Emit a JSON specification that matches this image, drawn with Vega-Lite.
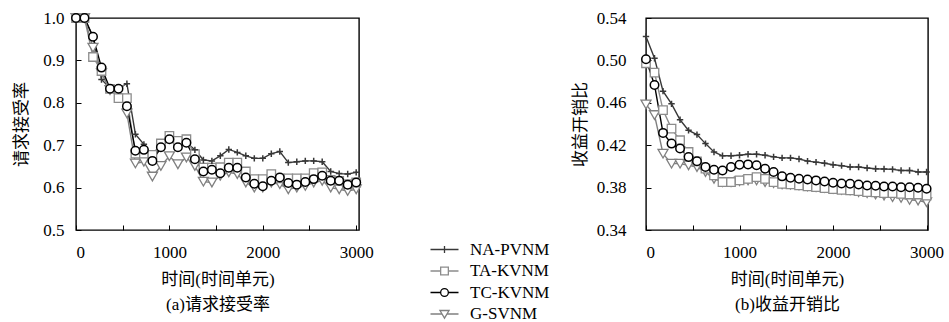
{
"$schema":"https://vega.github.io/schema/vega-lite/v6.json",
"background":"white",
"autosize":{"type":"pad"},
"padding":{"left":12,"top":8,"right":5,"bottom":5},
"spacing":287,
"bounds":"flush",
"datasets":{
"a":[
{"t":0,"s":"NA-PVNM","v":1.0},{"t":91,"s":"NA-PVNM","v":1.0},{"t":182,"s":"NA-PVNM","v":0.956},{"t":273,"s":"NA-PVNM","v":0.855},{"t":364,"s":"NA-PVNM","v":0.835},{"t":455,"s":"NA-PVNM","v":0.835},{"t":545,"s":"NA-PVNM","v":0.845},{"t":636,"s":"NA-PVNM","v":0.726},{"t":727,"s":"NA-PVNM","v":0.702},{"t":818,"s":"NA-PVNM","v":0.665},{"t":909,"s":"NA-PVNM","v":0.695},{"t":1000,"s":"NA-PVNM","v":0.714},{"t":1091,"s":"NA-PVNM","v":0.697},{"t":1182,"s":"NA-PVNM","v":0.706},{"t":1273,"s":"NA-PVNM","v":0.689},{"t":1364,"s":"NA-PVNM","v":0.665},{"t":1455,"s":"NA-PVNM","v":0.663},{"t":1545,"s":"NA-PVNM","v":0.675},{"t":1636,"s":"NA-PVNM","v":0.690},{"t":1727,"s":"NA-PVNM","v":0.683},{"t":1818,"s":"NA-PVNM","v":0.675},{"t":1909,"s":"NA-PVNM","v":0.669},{"t":2000,"s":"NA-PVNM","v":0.669},{"t":2091,"s":"NA-PVNM","v":0.680},{"t":2182,"s":"NA-PVNM","v":0.685},{"t":2273,"s":"NA-PVNM","v":0.659},{"t":2364,"s":"NA-PVNM","v":0.661},{"t":2455,"s":"NA-PVNM","v":0.663},{"t":2545,"s":"NA-PVNM","v":0.663},{"t":2636,"s":"NA-PVNM","v":0.661},{"t":2727,"s":"NA-PVNM","v":0.638},{"t":2818,"s":"NA-PVNM","v":0.633},{"t":2909,"s":"NA-PVNM","v":0.632},{"t":3000,"s":"NA-PVNM","v":0.636},
{"t":0,"s":"TA-KVNM","v":1.0},{"t":91,"s":"TA-KVNM","v":1.0},{"t":182,"s":"TA-KVNM","v":0.908},{"t":273,"s":"TA-KVNM","v":0.875},{"t":364,"s":"TA-KVNM","v":0.833},{"t":455,"s":"TA-KVNM","v":0.811},{"t":545,"s":"TA-KVNM","v":0.811},{"t":636,"s":"TA-KVNM","v":0.680},{"t":727,"s":"TA-KVNM","v":0.680},{"t":818,"s":"TA-KVNM","v":0.677},{"t":909,"s":"TA-KVNM","v":0.704},{"t":1000,"s":"TA-KVNM","v":0.722},{"t":1091,"s":"TA-KVNM","v":0.710},{"t":1182,"s":"TA-KVNM","v":0.714},{"t":1273,"s":"TA-KVNM","v":0.679},{"t":1364,"s":"TA-KVNM","v":0.647},{"t":1455,"s":"TA-KVNM","v":0.647},{"t":1545,"s":"TA-KVNM","v":0.648},{"t":1636,"s":"TA-KVNM","v":0.659},{"t":1727,"s":"TA-KVNM","v":0.659},{"t":1818,"s":"TA-KVNM","v":0.638},{"t":1909,"s":"TA-KVNM","v":0.620},{"t":2000,"s":"TA-KVNM","v":0.620},{"t":2091,"s":"TA-KVNM","v":0.632},{"t":2182,"s":"TA-KVNM","v":0.622},{"t":2273,"s":"TA-KVNM","v":0.622},{"t":2364,"s":"TA-KVNM","v":0.622},{"t":2455,"s":"TA-KVNM","v":0.622},{"t":2545,"s":"TA-KVNM","v":0.634},{"t":2636,"s":"TA-KVNM","v":0.636},{"t":2727,"s":"TA-KVNM","v":0.618},{"t":2818,"s":"TA-KVNM","v":0.616},{"t":2909,"s":"TA-KVNM","v":0.608},{"t":3000,"s":"TA-KVNM","v":0.612},
{"t":0,"s":"TC-KVNM","v":1.0},{"t":91,"s":"TC-KVNM","v":1.0},{"t":182,"s":"TC-KVNM","v":0.956},{"t":273,"s":"TC-KVNM","v":0.883},{"t":364,"s":"TC-KVNM","v":0.833},{"t":455,"s":"TC-KVNM","v":0.833},{"t":545,"s":"TC-KVNM","v":0.792},{"t":636,"s":"TC-KVNM","v":0.687},{"t":727,"s":"TC-KVNM","v":0.689},{"t":818,"s":"TC-KVNM","v":0.663},{"t":909,"s":"TC-KVNM","v":0.695},{"t":1000,"s":"TC-KVNM","v":0.714},{"t":1091,"s":"TC-KVNM","v":0.695},{"t":1182,"s":"TC-KVNM","v":0.706},{"t":1273,"s":"TC-KVNM","v":0.667},{"t":1364,"s":"TC-KVNM","v":0.638},{"t":1455,"s":"TC-KVNM","v":0.642},{"t":1545,"s":"TC-KVNM","v":0.634},{"t":1636,"s":"TC-KVNM","v":0.647},{"t":1727,"s":"TC-KVNM","v":0.647},{"t":1818,"s":"TC-KVNM","v":0.624},{"t":1909,"s":"TC-KVNM","v":0.609},{"t":2000,"s":"TC-KVNM","v":0.603},{"t":2091,"s":"TC-KVNM","v":0.616},{"t":2182,"s":"TC-KVNM","v":0.624},{"t":2273,"s":"TC-KVNM","v":0.611},{"t":2364,"s":"TC-KVNM","v":0.607},{"t":2455,"s":"TC-KVNM","v":0.613},{"t":2545,"s":"TC-KVNM","v":0.620},{"t":2636,"s":"TC-KVNM","v":0.628},{"t":2727,"s":"TC-KVNM","v":0.616},{"t":2818,"s":"TC-KVNM","v":0.616},{"t":2909,"s":"TC-KVNM","v":0.607},{"t":3000,"s":"TC-KVNM","v":0.612},
{"t":0,"s":"G-SVNM","v":1.0},{"t":91,"s":"G-SVNM","v":1.0},{"t":182,"s":"G-SVNM","v":0.93},{"t":273,"s":"G-SVNM","v":0.87},{"t":364,"s":"G-SVNM","v":0.83},{"t":455,"s":"G-SVNM","v":0.83},{"t":545,"s":"G-SVNM","v":0.775},{"t":636,"s":"G-SVNM","v":0.657},{"t":727,"s":"G-SVNM","v":0.661},{"t":818,"s":"G-SVNM","v":0.626},{"t":909,"s":"G-SVNM","v":0.651},{"t":1000,"s":"G-SVNM","v":0.674},{"t":1091,"s":"G-SVNM","v":0.655},{"t":1182,"s":"G-SVNM","v":0.671},{"t":1273,"s":"G-SVNM","v":0.651},{"t":1364,"s":"G-SVNM","v":0.614},{"t":1455,"s":"G-SVNM","v":0.612},{"t":1545,"s":"G-SVNM","v":0.628},{"t":1636,"s":"G-SVNM","v":0.636},{"t":1727,"s":"G-SVNM","v":0.632},{"t":1818,"s":"G-SVNM","v":0.612},{"t":1909,"s":"G-SVNM","v":0.600},{"t":2000,"s":"G-SVNM","v":0.600},{"t":2091,"s":"G-SVNM","v":0.612},{"t":2182,"s":"G-SVNM","v":0.608},{"t":2273,"s":"G-SVNM","v":0.596},{"t":2364,"s":"G-SVNM","v":0.600},{"t":2455,"s":"G-SVNM","v":0.604},{"t":2545,"s":"G-SVNM","v":0.612},{"t":2636,"s":"G-SVNM","v":0.616},{"t":2727,"s":"G-SVNM","v":0.600},{"t":2818,"s":"G-SVNM","v":0.596},{"t":2909,"s":"G-SVNM","v":0.592},{"t":3000,"s":"G-SVNM","v":0.596}
],
"b":[
{"t":0,"s":"NA-PVNM","v":0.5226},{"t":91,"s":"NA-PVNM","v":0.502},{"t":182,"s":"NA-PVNM","v":0.471},{"t":273,"s":"NA-PVNM","v":0.459},{"t":364,"s":"NA-PVNM","v":0.444},{"t":455,"s":"NA-PVNM","v":0.434},{"t":545,"s":"NA-PVNM","v":0.430},{"t":636,"s":"NA-PVNM","v":0.4215},{"t":727,"s":"NA-PVNM","v":0.4136},{"t":818,"s":"NA-PVNM","v":0.410},{"t":909,"s":"NA-PVNM","v":0.410},{"t":1000,"s":"NA-PVNM","v":0.4105},{"t":1091,"s":"NA-PVNM","v":0.4114},{"t":1182,"s":"NA-PVNM","v":0.4114},{"t":1273,"s":"NA-PVNM","v":0.4105},{"t":1364,"s":"NA-PVNM","v":0.409},{"t":1455,"s":"NA-PVNM","v":0.408},{"t":1545,"s":"NA-PVNM","v":0.408},{"t":1636,"s":"NA-PVNM","v":0.407},{"t":1727,"s":"NA-PVNM","v":0.405},{"t":1818,"s":"NA-PVNM","v":0.404},{"t":1909,"s":"NA-PVNM","v":0.403},{"t":2000,"s":"NA-PVNM","v":0.4016},{"t":2091,"s":"NA-PVNM","v":0.4007},{"t":2182,"s":"NA-PVNM","v":0.3994},{"t":2273,"s":"NA-PVNM","v":0.3994},{"t":2364,"s":"NA-PVNM","v":0.3985},{"t":2455,"s":"NA-PVNM","v":0.3978},{"t":2545,"s":"NA-PVNM","v":0.3975},{"t":2636,"s":"NA-PVNM","v":0.3972},{"t":2727,"s":"NA-PVNM","v":0.3962},{"t":2818,"s":"NA-PVNM","v":0.3962},{"t":2909,"s":"NA-PVNM","v":0.3947},{"t":3000,"s":"NA-PVNM","v":0.3947},
{"t":0,"s":"TA-KVNM","v":0.4973},{"t":91,"s":"TA-KVNM","v":0.4885},{"t":182,"s":"TA-KVNM","v":0.4531},{"t":273,"s":"TA-KVNM","v":0.4357},{"t":364,"s":"TA-KVNM","v":0.4247},{"t":455,"s":"TA-KVNM","v":0.4136},{"t":545,"s":"TA-KVNM","v":0.4048},{"t":636,"s":"TA-KVNM","v":0.3978},{"t":727,"s":"TA-KVNM","v":0.3915},{"t":818,"s":"TA-KVNM","v":0.3852},{"t":909,"s":"TA-KVNM","v":0.3852},{"t":1000,"s":"TA-KVNM","v":0.3868},{"t":1091,"s":"TA-KVNM","v":0.3883},{"t":1182,"s":"TA-KVNM","v":0.3899},{"t":1273,"s":"TA-KVNM","v":0.3883},{"t":1364,"s":"TA-KVNM","v":0.3852},{"t":1455,"s":"TA-KVNM","v":0.3836},{"t":1545,"s":"TA-KVNM","v":0.383},{"t":1636,"s":"TA-KVNM","v":0.382},{"t":1727,"s":"TA-KVNM","v":0.3811},{"t":1818,"s":"TA-KVNM","v":0.3804},{"t":1909,"s":"TA-KVNM","v":0.3795},{"t":2000,"s":"TA-KVNM","v":0.3785},{"t":2091,"s":"TA-KVNM","v":0.3779},{"t":2182,"s":"TA-KVNM","v":0.3773},{"t":2273,"s":"TA-KVNM","v":0.3767},{"t":2364,"s":"TA-KVNM","v":0.3757},{"t":2455,"s":"TA-KVNM","v":0.3754},{"t":2545,"s":"TA-KVNM","v":0.3748},{"t":2636,"s":"TA-KVNM","v":0.3748},{"t":2727,"s":"TA-KVNM","v":0.3741},{"t":2818,"s":"TA-KVNM","v":0.3735},{"t":2909,"s":"TA-KVNM","v":0.3735},{"t":3000,"s":"TA-KVNM","v":0.3725},
{"t":0,"s":"TC-KVNM","v":0.501},{"t":91,"s":"TC-KVNM","v":0.4768},{"t":182,"s":"TC-KVNM","v":0.4316},{"t":273,"s":"TC-KVNM","v":0.4215},{"t":364,"s":"TC-KVNM","v":0.4168},{"t":455,"s":"TC-KVNM","v":0.4089},{"t":545,"s":"TC-KVNM","v":0.4048},{"t":636,"s":"TC-KVNM","v":0.3994},{"t":727,"s":"TC-KVNM","v":0.3969},{"t":818,"s":"TC-KVNM","v":0.3962},{"t":909,"s":"TC-KVNM","v":0.3994},{"t":1000,"s":"TC-KVNM","v":0.4016},{"t":1091,"s":"TC-KVNM","v":0.4019},{"t":1182,"s":"TC-KVNM","v":0.401},{"t":1273,"s":"TC-KVNM","v":0.3978},{"t":1364,"s":"TC-KVNM","v":0.3947},{"t":1455,"s":"TC-KVNM","v":0.3906},{"t":1545,"s":"TC-KVNM","v":0.3893},{"t":1636,"s":"TC-KVNM","v":0.3883},{"t":1727,"s":"TC-KVNM","v":0.3877},{"t":1818,"s":"TC-KVNM","v":0.3868},{"t":1909,"s":"TC-KVNM","v":0.3858},{"t":2000,"s":"TC-KVNM","v":0.3846},{"t":2091,"s":"TC-KVNM","v":0.3839},{"t":2182,"s":"TC-KVNM","v":0.3836},{"t":2273,"s":"TC-KVNM","v":0.383},{"t":2364,"s":"TC-KVNM","v":0.382},{"t":2455,"s":"TC-KVNM","v":0.3817},{"t":2545,"s":"TC-KVNM","v":0.3811},{"t":2636,"s":"TC-KVNM","v":0.3811},{"t":2727,"s":"TC-KVNM","v":0.3804},{"t":2818,"s":"TC-KVNM","v":0.3804},{"t":2909,"s":"TC-KVNM","v":0.3798},{"t":3000,"s":"TC-KVNM","v":0.3789},
{"t":0,"s":"G-SVNM","v":0.4585},{"t":91,"s":"G-SVNM","v":0.4484},{"t":182,"s":"G-SVNM","v":0.412},{"t":273,"s":"G-SVNM","v":0.4026},{"t":364,"s":"G-SVNM","v":0.4026},{"t":455,"s":"G-SVNM","v":0.401},{"t":545,"s":"G-SVNM","v":0.3994},{"t":636,"s":"G-SVNM","v":0.3947},{"t":727,"s":"G-SVNM","v":0.3883},{"t":818,"s":"G-SVNM","v":0.3852},{"t":909,"s":"G-SVNM","v":0.3852},{"t":1000,"s":"G-SVNM","v":0.3861},{"t":1091,"s":"G-SVNM","v":0.3868},{"t":1182,"s":"G-SVNM","v":0.3868},{"t":1273,"s":"G-SVNM","v":0.3852},{"t":1364,"s":"G-SVNM","v":0.3842},{"t":1455,"s":"G-SVNM","v":0.383},{"t":1545,"s":"G-SVNM","v":0.3827},{"t":1636,"s":"G-SVNM","v":0.382},{"t":1727,"s":"G-SVNM","v":0.3811},{"t":1818,"s":"G-SVNM","v":0.3804},{"t":1909,"s":"G-SVNM","v":0.3798},{"t":2000,"s":"G-SVNM","v":0.3789},{"t":2091,"s":"G-SVNM","v":0.3779},{"t":2182,"s":"G-SVNM","v":0.3773},{"t":2273,"s":"G-SVNM","v":0.3757},{"t":2364,"s":"G-SVNM","v":0.3748},{"t":2455,"s":"G-SVNM","v":0.3735},{"t":2545,"s":"G-SVNM","v":0.3725},{"t":2636,"s":"G-SVNM","v":0.371},{"t":2727,"s":"G-SVNM","v":0.3703},{"t":2818,"s":"G-SVNM","v":0.3684},{"t":2909,"s":"G-SVNM","v":0.3678},{"t":3000,"s":"G-SVNM","v":0.3662}
]
},
"hconcat":[
{
"width":283,"height":212,
"data":{"name":"a"},
"encoding":{
"x":{"field":"t","type":"quantitative","scale":{"domain":[0,3030],"nice":false,"zero":false},
 "axis":{"values":[0,500,1000,1500,2000,2500,3000],"format":"d","labelExpr":"datum.value % 1000 === 0 ? datum.label : ''","labelPadding":19,"title":["时间(时间单元)","(a)请求接受率"],"titlePadding":11,"titleLineHeight":25}},
"y":{"field":"v","type":"quantitative","scale":{"domain":[0.5,1.0],"nice":false,"zero":false},
 "axis":{"values":[0.5,0.6,0.7,0.8,0.9,1.0],"format":".1f","labelPadding":17,"title":"请求接受率","titlePadding":12}},
"color":{"field":"s","type":"nominal","scale":{"domain":["NA-PVNM","TA-KVNM","TC-KVNM","G-SVNM"],"range":["#383838","#8c8c8c","#000000","#808080"]},
 "legend":{"orient":"none","legendX":360,"legendY":223,"title":null}}
},
"layer":[
{"mark":{"type":"line","strokeWidth":1.4}},
{"transform":[{"filter":"datum.s === 'G-SVNM'"}],"mark":{"type":"point","shape":"triangle-down","size":100,"filled":false,"fill":"white","strokeWidth":1.3,"opacity":1}},
{"transform":[{"filter":"datum.s === 'TA-KVNM'"}],"mark":{"type":"point","shape":"square","size":72,"filled":false,"fill":"white","strokeWidth":1.3,"opacity":1}},
{"transform":[{"filter":"datum.s === 'NA-PVNM'"}],"mark":{"type":"point","shape":"M-0.8,0L0.8,0M0,-0.8L0,0.8","size":64,"filled":false,"strokeWidth":1.5,"opacity":1}},
{"transform":[{"filter":"datum.s === 'TC-KVNM'"}],"mark":{"type":"point","shape":"circle","size":72,"filled":false,"fill":"white","strokeWidth":1.5,"opacity":1}},
{"transform":[{"filter":"datum.t < 0"}],"mark":{"type":"point","filled":false,"fill":"white","strokeWidth":1.3,"opacity":1},
 "encoding":{"shape":{"field":"s","type":"nominal","scale":{"domain":["NA-PVNM","TA-KVNM","TC-KVNM","G-SVNM"],"range":["M-4,0L4,0M0,-1L0,1","M-4,0L-1.1,0M1.1,0L4,0M-1.1,-1.1L1.1,-1.1L1.1,1.1L-1.1,1.1Z","M-4,0L-1.1,0M1.1,0L4,0M-1.1,0A1.1,1.1,0,1,1,1.1,0A1.1,1.1,0,1,1,-1.1,0Z","M-4,0L-0.7,0M0.7,0L4,0M-1.3,-1L1.3,-1L0,1.2Z"]},
 "legend":{"orient":"none","legendX":360,"legendY":223,"title":null}}}}
]
},
{
"width":282,"height":212,
"data":{"name":"b"},
"encoding":{
"x":{"field":"t","type":"quantitative","scale":{"domain":[0,3015],"nice":false,"zero":false},
 "axis":{"values":[0,500,1000,1500,2000,2500,3000],"format":"d","labelExpr":"datum.value % 1000 === 0 ? datum.label : ''","labelPadding":19,"title":["时间(时间单元)","(b)收益开销比"],"titlePadding":11,"titleLineHeight":25}},
"y":{"field":"v","type":"quantitative","scale":{"domain":[0.34,0.54],"nice":false,"zero":false},
 "axis":{"values":[0.34,0.38,0.42,0.46,0.50,0.54],"format":".2f","labelPadding":25,"title":"收益开销比","titlePadding":7}},
"color":{"field":"s","type":"nominal","scale":{"domain":["NA-PVNM","TA-KVNM","TC-KVNM","G-SVNM"],"range":["#383838","#8c8c8c","#000000","#808080"]}}
},
"layer":[
{"mark":{"type":"line","strokeWidth":1.4}},
{"transform":[{"filter":"datum.s === 'G-SVNM'"}],"mark":{"type":"point","shape":"triangle-down","size":100,"filled":false,"fill":"white","strokeWidth":1.3,"opacity":1}},
{"transform":[{"filter":"datum.s === 'TA-KVNM'"}],"mark":{"type":"point","shape":"square","size":72,"filled":false,"fill":"white","strokeWidth":1.3,"opacity":1}},
{"transform":[{"filter":"datum.s === 'NA-PVNM'"}],"mark":{"type":"point","shape":"M-0.8,0L0.8,0M0,-0.8L0,0.8","size":64,"filled":false,"strokeWidth":1.5,"opacity":1}},
{"transform":[{"filter":"datum.s === 'TC-KVNM'"}],"mark":{"type":"point","shape":"circle","size":72,"filled":false,"fill":"white","strokeWidth":1.5,"opacity":1}}
]
}
],
"resolve":{"scale":{"color":"shared","shape":"shared"}},
"config":{
"view":{"stroke":"black","strokeWidth":1.4},
"axis":{"domain":false,"grid":false,"tickSize":-5,"tickColor":"black","tickWidth":1,"labelColor":"black","titleColor":"black","labelFont":"Liberation Serif","labelFontSize":17,"titleFont":"Liberation Serif, Noto Sans CJK SC","titleFontSize":17,"titleFontWeight":"normal"},
"legend":{"labelFont":"Liberation Serif","labelFontSize":17,"labelColor":"black","symbolSize":49,"symbolStrokeWidth":1.3,"symbolFillColor":"white","labelOffset":17,"rowPadding":3.5,"padding":0}
}
}
